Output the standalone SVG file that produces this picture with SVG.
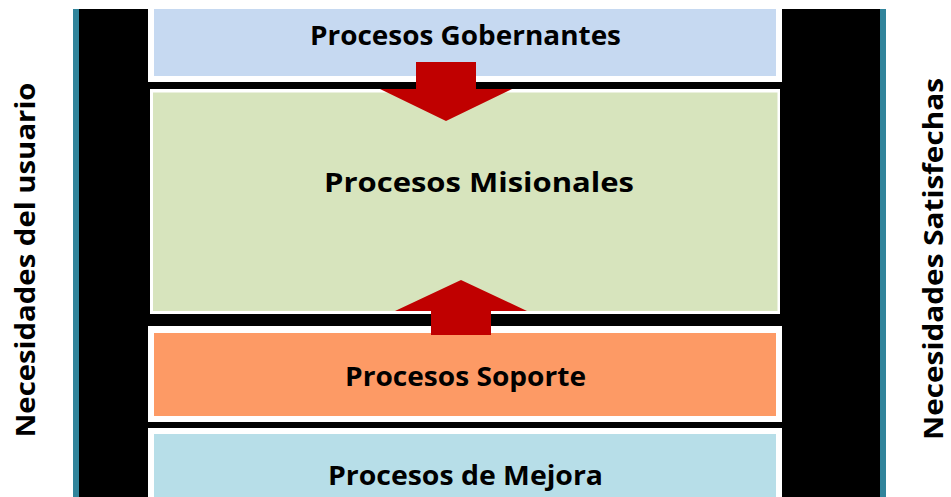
<svg xmlns="http://www.w3.org/2000/svg" width="951" height="497" viewBox="0 0 951 497">
<style>
.lbl{font-family:"Open Sans","Liberation Sans",sans-serif;font-weight:bold;font-size:26px;fill:#000;text-anchor:middle}
.side{font-family:"Open Sans","Liberation Sans",sans-serif;font-weight:bold;font-size:26px;fill:#000;text-anchor:middle}
.frame{fill:#fff}
.arrow{fill:#C00000}
</style>
<rect x="0" y="0" width="951" height="497" fill="#fff"/>
<g id="background">
<rect x="73" y="9" width="6" height="488" fill="#31849B"/>
<rect x="880" y="9" width="6" height="488" fill="#31849B"/>
<rect x="79" y="9" width="801" height="488" fill="#000"/>
</g>
<g id="gobernantes">
<rect class="frame" x="148" y="9" width="634" height="73"/>
<rect x="154" y="9" width="622" height="67" fill="#C6D9F1"/>
<text class="lbl" x="465.5" y="45" textLength="311" lengthAdjust="spacingAndGlyphs">Procesos Gobernantes</text>
</g>
<g id="misionales">
<rect class="frame" x="150" y="89" width="630" height="225"/>
<rect x="153" y="92.5" width="624.5" height="218.5" fill="#D7E4BD"/>
<text class="lbl" x="479" y="192" textLength="310" lengthAdjust="spacingAndGlyphs">Procesos Misionales</text>
</g>
<g id="soporte">
<rect class="frame" x="148" y="326" width="634" height="96"/>
<rect x="154" y="333" width="622" height="83" fill="#FD9A65"/>
<text class="lbl" x="465.5" y="386" textLength="241" lengthAdjust="spacingAndGlyphs">Procesos Soporte</text>
</g>
<g id="mejora">
<rect class="frame" x="148" y="428" width="634" height="69"/>
<rect x="154" y="434" width="622" height="63" fill="#B7DEE8"/>
<text class="lbl" x="465.5" y="485" textLength="275" lengthAdjust="spacingAndGlyphs">Procesos de Mejora</text>
</g>
<g id="necesidades-usuario">
<text class="side" transform="translate(35,260) rotate(-90)" x="0" y="0" textLength="355" lengthAdjust="spacingAndGlyphs">Necesidades del usuario</text>
</g>
<g id="necesidades-satisfechas">
<text class="side" transform="translate(943,259) rotate(-90)" x="0" y="0" textLength="362" lengthAdjust="spacingAndGlyphs">Necesidades Satisfechas</text>
</g>
<g id="connectors">
<polygon class="arrow" points="416,62 476,62 476,89 512,89 446,121 380,89 416,89"/>
<polygon class="arrow" points="461,280 527,311 491,311 491,335 431,335 431,311 395,311"/>
</g>
</svg>
